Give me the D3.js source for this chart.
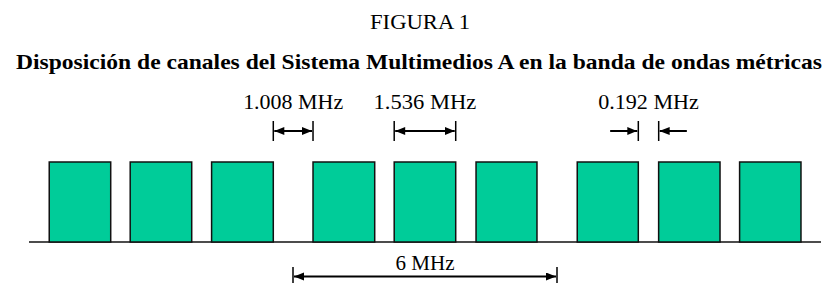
<!DOCTYPE html>
<html><head><meta charset="utf-8">
<script src="https://cdn.jsdelivr.net/npm/d3@7"></script>
<style>body{margin:0;background:#fff}svg{display:block}</style>
</head><body>
<script>
// Diagram units: MHz along the band (schematic)
const title = "FIGURA 1";
const subtitle = "Disposición de canales del Sistema Multimedios A en la banda de ondas métricas";
const bandExtent = [0, 18];
const blockStart = [0.46, 2.30, 4.15, 6.455, 8.30, 10.16, 12.46, 14.31, 16.15];
const blockEnd   = [1.857, 3.698, 5.552, 7.857, 9.698, 11.545, 13.848, 15.705, 17.545];
const dimLabels  = ["1.008 MHz", "1.536 MHz", "0.192 MHz", "6 MHz"];
const dimFrom    = [5.552, 8.30, 13.848, 6.0];
const dimTo      = [6.455, 9.698, 14.311, 12.0];
const dimOutward = [false, false, true, false];

const W = 833, H = 283;
const svg = d3.select("body").append("svg").attr("width", W).attr("height", H);
const x = d3.scaleLinear().domain(bandExtent).range([29, 821]);
const y = d3.scaleLinear().domain([0, 1]).range([242, 162]);
const serif = "'Liberation Serif','Times New Roman',Times,serif";

svg.append("text").attr("x", 420).attr("y", 29).attr("text-anchor", "middle")
  .attr("font-family", serif).attr("font-size", 22).attr("textLength", 100)
  .attr("lengthAdjust", "spacingAndGlyphs").text(title);
const sub = svg.append("text").attr("x", 419).attr("y", 68.5).attr("text-anchor", "middle")
  .attr("font-family", serif).attr("font-size", 22).attr("font-weight", "bold").text(subtitle);
// fit to reference width if natural width differs
const nat = sub.node().getComputedTextLength();
if (nat < 806) sub.attr("textLength", 806).attr("lengthAdjust", "spacingAndGlyphs");

const defs = svg.append("defs");
defs.append("marker").attr("id", "ah").attr("viewBox", "0 0 10 8").attr("refX", 10).attr("refY", 4)
  .attr("markerWidth", 10).attr("markerHeight", 8).attr("markerUnits", "userSpaceOnUse")
  .attr("orient", "auto").append("path").attr("d", "M0,0L10,4L0,8Z").attr("fill", "#000");

// baseline
svg.append("line").attr("x1", x(bandExtent[0])).attr("x2", x(bandExtent[1]))
  .attr("y1", y(0)).attr("y2", y(0)).attr("stroke", "#111").attr("stroke-width", 1.4);

// blocks
svg.selectAll("rect.blk").data(blockStart).join("rect").attr("class", "blk")
  .attr("x", d => x(d)).attr("y", y(1))
  .attr("width", (d, i) => x(blockEnd[i]) - x(d)).attr("height", y(0) - y(1))
  .attr("fill", "#00CC99").attr("stroke", "#111").attr("stroke-width", 1.5);

// dimension annotations
dimLabels.forEach((lab, i) => {
  const bottom = i === 3;
  const ay = bottom ? 276.5 : 131;
  const ty = bottom ? 270 : 108.5;
  const b0 = bottom ? 267 : 121, b1 = bottom ? 290 : 141;
  const xa = x(dimFrom[i]), xb = x(dimTo[i]);
  const g = svg.append("g");
  [xa, xb].forEach(xx => g.append("line").attr("x1", xx).attr("x2", xx).attr("y1", b0).attr("y2", b1)
    .attr("stroke", "#000").attr("stroke-width", 1.5));
  if (!dimOutward[i]) {
    g.append("line").attr("x1", xa + 1).attr("x2", xb - 1).attr("y1", ay).attr("y2", ay)
      .attr("stroke", "#000").attr("stroke-width", 2).attr("marker-end", "url(#ah)");
    g.append("path").attr("d", `M${xa + 1},${ay}L${xa + 11},${ay - 4}L${xa + 11},${ay + 4}Z`).attr("fill", "#000");
  } else {
    const len = x(dimFrom[i]) - x(dimFrom[i] - 0.64);
    g.append("line").attr("x1", xa - len).attr("x2", xa - 1).attr("y1", ay).attr("y2", ay)
      .attr("stroke", "#000").attr("stroke-width", 2).attr("marker-end", "url(#ah)");
    g.append("line").attr("x1", xb + len).attr("x2", xb + 1).attr("y1", ay).attr("y2", ay)
      .attr("stroke", "#000").attr("stroke-width", 2).attr("marker-end", "url(#ah)");
  }
  const tl = [100, 102.7, 100.7, 59][i];
  g.append("text").attr("x", (xa + xb) / 2).attr("y", ty).attr("text-anchor", "middle")
    .attr("font-family", serif).attr("font-size", 22)
    .attr("textLength", tl).attr("lengthAdjust", "spacingAndGlyphs").text(lab);
});
</script>
</body></html>
